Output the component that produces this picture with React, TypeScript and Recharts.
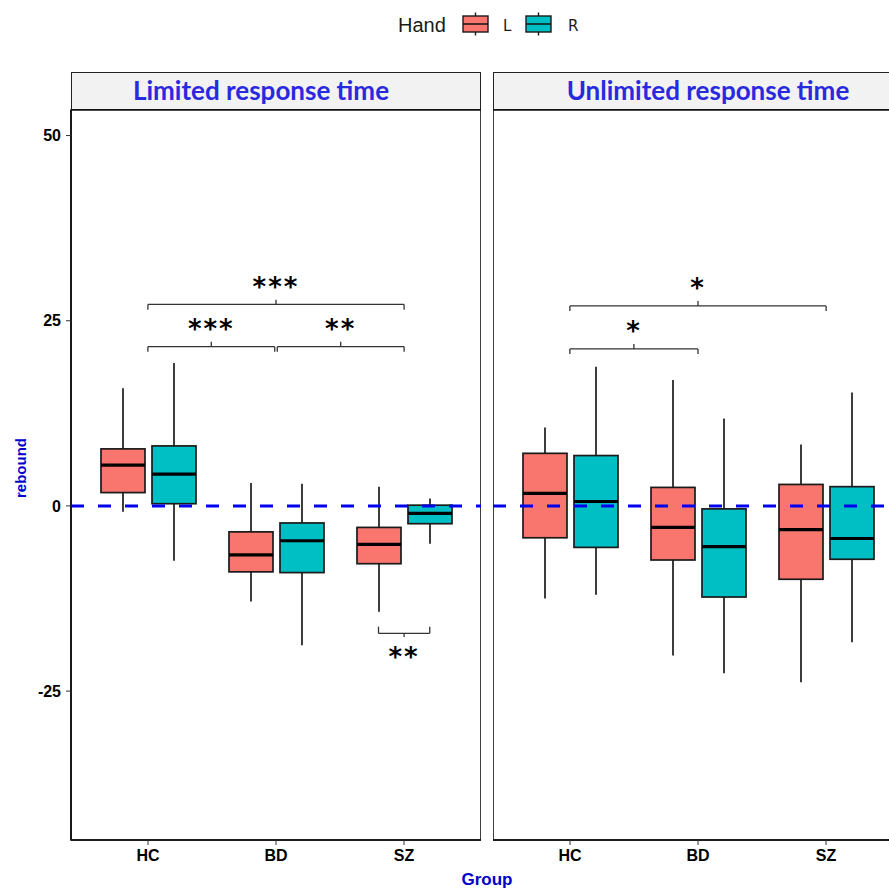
import {
  ComposedChart,
  Bar,
  XAxis,
  YAxis,
  ReferenceLine,
  ReferenceArea,
  ReferenceDot,
} from "recharts";

const groups = ["HC", "BD", "SZ"];
const groupPos = [1, 2, 3];

// five-number summaries per group: [min, q1, median, q3, max]
const limitedL = [
  [-0.8, 1.8, 5.5, 7.7, 15.9],
  [-12.9, -8.9, -6.6, -3.5, 3.1],
  [-14.3, -7.8, -5.2, -2.9, 2.6],
];
const limitedR = [
  [-7.4, 0.3, 4.3, 8.1, 19.3],
  [-18.8, -9.0, -4.7, -2.3, 3.0],
  [-5.1, -2.4, -1.0, 0.1, 1.0],
];
const unlimitedL = [
  [-12.5, -4.3, 1.7, 7.1, 10.6],
  [-20.2, -7.3, -2.9, 2.5, 17.0],
  [-23.8, -9.9, -3.2, 2.9, 8.3],
];
const unlimitedR = [
  [-12.0, -5.6, 0.6, 6.8, 18.8],
  [-22.6, -12.3, -5.5, -0.4, 11.8],
  [-18.4, -7.2, -4.4, 2.6, 15.3],
];

// significance brackets (x on the numeric group scale, HC = 1)
const limitedBrackets = [
  { x1: 1, x2: 3, y: 27.2, label: "***", below: false },
  { x1: 1, x2: 1.99, y: 21.5, label: "***", below: false },
  { x1: 2.01, x2: 3, y: 21.5, label: "**", below: false },
  { x1: 2.8, x2: 3.2, y: -17.2, label: "**", below: true },
];
const unlimitedBrackets = [
  { x1: 1, x2: 3, y: 27.0, label: "*", below: false },
  { x1: 1, x2: 2, y: 21.2, label: "*", below: false },
];

const yDomain = [-45.1, 53.45];
const yTicks = [-25, 0, 25, 50];

const FILL_L = "#F8766D";
const FILL_R = "#00BFC4";
const BLUE = "#0000CD";
const SANS = "'Liberation Sans', Arial, sans-serif";

const makeRows = (L: number[][], R: number[][]) =>
  groups.map((g, i) => ({
    group: g,
    pos: groupPos[i],
    L: [L[i][0], L[i][4]],
    R: [R[i][0], R[i][4]],
    Lstats: L[i],
    Rstats: R[i],
  }));

const boxShape = (key: "Lstats" | "Rstats", fill: string) => (props: any) => {
  const { x, y, width, height, payload } = props;
  const [mn, q1, med, q3, mx] = payload[key];
  const top = Math.min(y, y + height);
  const h = Math.abs(height);
  const py = (v: number) => top + ((mx - v) / (mx - mn)) * h;
  const cx = x + width / 2;
  return (
    <g>
      <line x1={cx} x2={cx} y1={py(mx)} y2={py(q3)} stroke="#1a1a1a" strokeWidth={1.7} />
      <line x1={cx} x2={cx} y1={py(q1)} y2={py(mn)} stroke="#1a1a1a" strokeWidth={1.7} />
      <rect
        x={x}
        y={py(q3)}
        width={width}
        height={py(q1) - py(q3)}
        fill={fill}
        stroke="#1a1a1a"
        strokeWidth={1.7}
      />
      <line x1={x} x2={x + width} y1={py(med)} y2={py(med)} stroke="#000" strokeWidth={3.2} />
    </g>
  );
};

function bracketLines(b: any, i: number) {
  const tip = b.below ? 0.9 : -0.7;
  const nub = b.below ? -0.5 : 0.65;
  const mid = (b.x1 + b.x2) / 2;
  const labelY = b.below ? b.y - 3.2 : b.y + 2.4;
  const line = { xAxisId: "num", stroke: "#333", strokeWidth: 1.3, ifOverflow: "visible" as const };
  return [
    <ReferenceLine key={`h${i}`} {...line} segment={[{ x: b.x1, y: b.y }, { x: b.x2, y: b.y }]} />,
    <ReferenceLine key={`a${i}`} {...line} segment={[{ x: b.x1, y: b.y }, { x: b.x1, y: b.y + tip }]} />,
    <ReferenceLine key={`b${i}`} {...line} segment={[{ x: b.x2, y: b.y }, { x: b.x2, y: b.y + tip }]} />,
    <ReferenceLine key={`c${i}`} {...line} segment={[{ x: mid, y: b.y }, { x: mid, y: b.y + nub }]} />,
    <ReferenceDot
      key={`t${i}`}
      xAxisId="num"
      x={mid}
      y={labelY}
      r={0}
      shape={(p: any) => (
        <text
          x={p.cx}
          y={p.cy}
          textAnchor="middle"
          dominantBaseline="central"
          fontFamily="'DejaVu Sans', sans-serif"
          fontWeight={700}
          fontSize={26}
          letterSpacing={2}
          fill="#000"
        >
          {b.label}
        </text>
      )}
    />,
  ];
}

function Panel({ rows, brackets, showY, width }: any) {
  return (
    <ComposedChart
      width={width}
      height={889}
      data={rows}
      margin={{ top: 110, right: 0, bottom: 0, left: 0 }}
      barSize={44}
      barGap={7}
    >
      <XAxis
        dataKey="group"
        type="category"
        padding={{ left: 13, right: 13 }}
        height={49}
        tickSize={5}
        tickMargin={5}
        tickLine={{ stroke: "#333" }}
        axisLine={{ stroke: "#111", strokeWidth: 1.6 }}
        tick={{ fill: "#000", fontSize: 16, fontWeight: 700, fontFamily: SANS }}
      />
      <XAxis xAxisId="num" dataKey="pos" type="number" domain={[0.4, 3.6]} allowDataOverflow hide />
      <YAxis
        type="number"
        domain={yDomain}
        ticks={yTicks}
        allowDataOverflow
        hide={!showY}
        width={showY ? 71 : 0}
        tickSize={5}
        tickMargin={5}
        tickLine={{ stroke: "#333" }}
        axisLine={{ stroke: "#111", strokeWidth: 1.6 }}
        tick={{ fill: "#000", fontSize: 16, fontWeight: 700, fontFamily: SANS }}
      />
      <ReferenceArea
        xAxisId="num"
        x1={0.4}
        x2={3.6}
        y1={yDomain[0]}
        y2={yDomain[1]}
        ifOverflow="visible"
        fill="none"
        stroke="#111"
        strokeWidth={1.6}
      />
      <Bar dataKey="L" isAnimationActive={false} shape={boxShape("Lstats", FILL_L)} />
      <Bar dataKey="R" isAnimationActive={false} shape={boxShape("Rstats", FILL_R)} />
      <ReferenceLine y={0} stroke="#0000EE" strokeWidth={3} strokeDasharray="13 14" />
      {brackets.flatMap((b: any, i: number) => bracketLines(b, i))}
    </ComposedChart>
  );
}

const stripStyle = (left: number): any => ({
  position: "absolute",
  left,
  top: 72,
  width: 410,
  height: 38,
  boxSizing: "border-box",
  background: "#F2F2F2",
  border: "1.5px solid #222",
});

const stripText = (center: number): any => ({
  position: "absolute",
  left: center,
  top: 72,
  height: 38,
  lineHeight: "36px",
  transform: "translateX(-50%)",
  whiteSpace: "nowrap",
  fontFamily: "Lato, 'Open Sans', sans-serif",
  fontWeight: 700,
  fontSize: 26,
  color: "#2929E0",
});

export default function App() {
  const limitedRows = makeRows(limitedL, limitedR);
  const unlimitedRows = makeRows(unlimitedL, unlimitedR);
  return (
    <div
      style={{
        position: "absolute",
        left: 0,
        top: 0,
        width: 889,
        height: 889,
        overflow: "hidden",
        background: "#fff",
        fontFamily: SANS,
      }}
    >
      <div style={stripStyle(71)} />
      <div style={stripStyle(493)} />
      <div style={stripText(261)}>Limited response time</div>
      <div style={stripText(708)}>Unlimited response time</div>

      <div style={{ position: "absolute", left: 0, top: 0 }}>
        <Panel rows={limitedRows} brackets={limitedBrackets} showY width={481} />
      </div>
      <div style={{ position: "absolute", left: 493, top: 0 }}>
        <Panel rows={unlimitedRows} brackets={unlimitedBrackets} showY={false} width={410} />
      </div>

      {/* legend */}
      <svg style={{ position: "absolute", left: 0, top: 0 }} width={889} height={50}>
        <text x={398} y={32} fontFamily={SANS} fontSize={20} fill="#1a1a1a">
          Hand
        </text>
        {[
          { x: 463, fill: FILL_L, label: "L", lx: 503 },
          { x: 526, fill: FILL_R, label: "R", lx: 568 },
        ].map((k) => (
          <g key={k.label}>
            <line x1={k.x + 12.5} x2={k.x + 12.5} y1={12.5} y2={35.5} stroke="#1a1a1a" strokeWidth={1.4} />
            <rect x={k.x} y={16} width={25} height={16} fill={k.fill} stroke="#1a1a1a" strokeWidth={1.4} />
            <line x1={k.x} x2={k.x + 25} y1={24} y2={24} stroke="#1a1a1a" strokeWidth={1.6} />
            <text x={k.lx} y={31} fontFamily="'DejaVu Sans', sans-serif" fontSize={15} fill="#1a1a1a">
              {k.label}
            </text>
          </g>
        ))}
      </svg>

      {/* axis titles */}
      <div
        style={{
          position: "absolute",
          left: 20,
          top: 468,
          transform: "translate(-50%, -50%) rotate(-90deg)",
          fontWeight: 700,
          fontSize: 15,
          color: BLUE,
          whiteSpace: "nowrap",
        }}
      >
        rebound
      </div>
      <div
        style={{
          position: "absolute",
          left: 487,
          top: 880,
          transform: "translate(-50%, -50%)",
          fontWeight: 700,
          fontSize: 17,
          color: BLUE,
          whiteSpace: "nowrap",
        }}
      >
        Group
      </div>
    </div>
  );
}
